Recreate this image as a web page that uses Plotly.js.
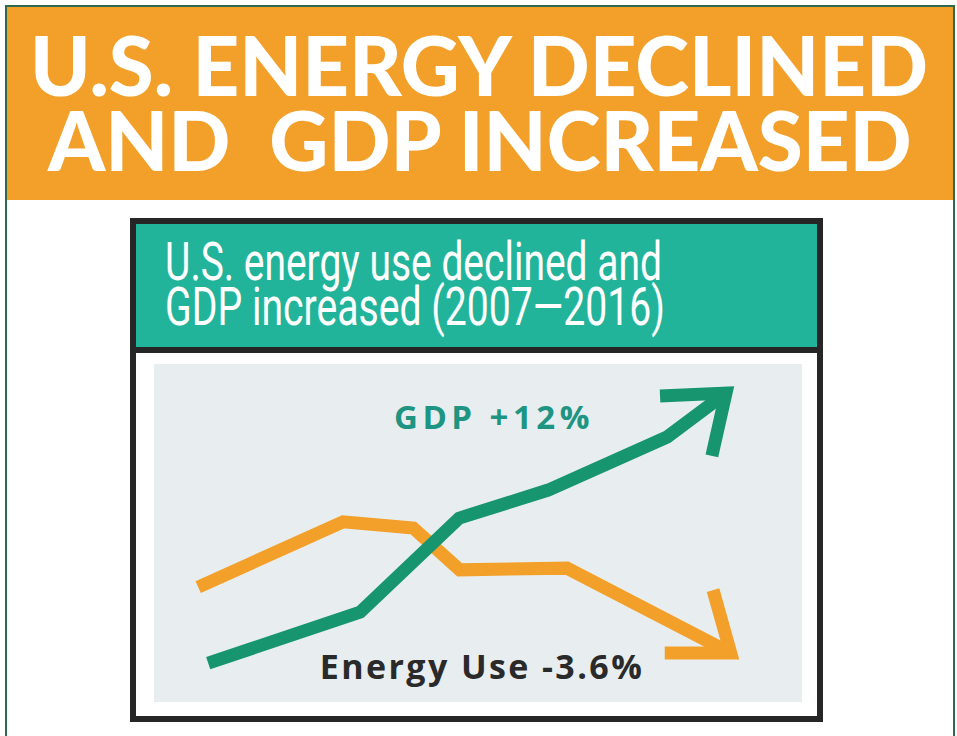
<!DOCTYPE html>
<html><head><meta charset="utf-8">
<script src="https://cdn.plot.ly/plotly-3.0.1.min.js"></script>
<style>
html,body{margin:0;padding:0;background:#fff}
#chart{width:957px;height:736px}
g.annotation[data-index="4"] text{letter-spacing:4.5px}
g.annotation[data-index="5"] text{letter-spacing:2.4px}
</style>
</head><body><div id="chart"></div>
<script>
// ---- data (stylised index, x in years) ----
const gdpX = [2006.92, 2009.50, 2011.18, 2012.69, 2014.71, 2015.71];
const gdpY = [11.5, 26.6, 54.4, 62.7, 78.4, 91.4];
const gdpHeadX = [2014.59, 2015.71, 2015.47];
const gdpHeadY = [90.5, 91.4, 72.8];
const energyX = [2006.75, 2009.21, 2010.40, 2011.19, 2013.01, 2015.79];
const energyY = [34.0, 53.3, 51.5, 39.1, 39.6, 14.5];
const energyHeadX = [2015.49, 2015.79, 2014.67];
const energyHeadY = [33.1, 14.5, 14.5];
const titleLines = ["U.S. ENERGY DECLINED", "AND\u00a0 GDP INCREASED"];
const subtitleLines = ["U.S. energy use declined and", "GDP increased (2007\u20142016)"];
const gdpLabel = "GDP +12%";
const energyLabel = "Energy Use -3.6%";
const gdpLabelPos = [2011.77, 84.6];
const energyLabelPos = [2011.57, 10.7];

// ---- layout helpers (pixel -> paper) ----
const W = 957, H = 736;
const px = v => v / W;
const py = v => 1 - v / H;
const rect = (x0, y0, x1, y1, fill, line, lw) => ({
  type: 'rect', xref: 'paper', yref: 'paper', layer: 'below',
  x0: px(x0), x1: px(x1), y0: py(y0), y1: py(y1),
  fillcolor: fill || 'rgba(0,0,0,0)',
  line: {color: line || 'rgba(0,0,0,0)', width: lw || 0}
});

const GREEN = '#17956F', ORANGE = '#F3A02A';
const traces = [
  {x: energyX, y: energyY, mode: 'lines', line: {color: ORANGE, width: 13}, hoverinfo: 'skip'},
  {x: energyHeadX, y: energyHeadY, mode: 'lines', line: {color: ORANGE, width: 13}, hoverinfo: 'skip'},
  {x: gdpX, y: gdpY, mode: 'lines', line: {color: GREEN, width: 13}, hoverinfo: 'skip'},
  {x: gdpHeadX, y: gdpHeadY, mode: 'lines', line: {color: GREEN, width: 13}, hoverinfo: 'skip'}
];

const titleFont = {family: 'Lato, "Open Sans", sans-serif', size: 82, color: '#ffffff', weight: 900};
const subFont = {family: 'Roboto, "Open Sans", sans-serif', size: 54, color: '#ffffff'};
const labFont = {family: '"Open Sans", Roboto, sans-serif', size: 33, weight: 700};

const layout = {
  width: W, height: H,
  margin: {l: 0, r: 0, t: 0, b: 0},
  paper_bgcolor: '#ffffff',
  plot_bgcolor: '#E8EEEF',
  showlegend: false,
  xaxis: {domain: [154 / W, 802 / W], range: [2006, 2017], visible: false, fixedrange: true},
  yaxis: {domain: [1 - 702 / H, 1 - 364 / H], range: [0, 100], visible: false, fixedrange: true},
  shapes: [
    rect(6, 6, 954, 760, null, '#2E6B4E', 2),
    rect(7, 7, 953, 200, ORANGE),
    rect(133, 221, 820, 719, null, '#262626', 6),
    rect(136, 224, 817, 347, '#22B49A'),
    rect(136, 347, 817, 353, '#262626')
  ],
  annotations: [
    {xref: 'paper', yref: 'paper', x: px(479), y: py(64), xanchor: 'center', yanchor: 'middle',
     text: titleLines[0], showarrow: false, font: titleFont},
    {xref: 'paper', yref: 'paper', x: px(479), y: py(139), xanchor: 'center', yanchor: 'middle',
     text: titleLines[1], showarrow: false, font: titleFont},
    {xref: 'paper', yref: 'paper', x: px(163), y: py(261), xanchor: 'left', yanchor: 'middle',
     text: subtitleLines[0], showarrow: false, font: subFont},
    {xref: 'paper', yref: 'paper', x: px(163), y: py(306), xanchor: 'left', yanchor: 'middle',
     text: subtitleLines[1], showarrow: false, font: subFont},
    {x: gdpLabelPos[0], y: gdpLabelPos[1], xanchor: 'center', yanchor: 'middle',
     text: gdpLabel, showarrow: false, font: Object.assign({}, labFont, {color: '#1E9582'})},
    {x: energyLabelPos[0], y: energyLabelPos[1], xanchor: 'center', yanchor: 'middle',
     text: energyLabel, showarrow: false, font: Object.assign({}, labFont, {size: 34, color: '#2A2A2A'})}
  ]
};

// target widths (px) of lines fitted horizontally: [width, origin]
const fitTargets = {0: [898, '50% 50%'], 1: [865, '50% 50%'], 2: [497, '0 50%'], 3: [500, '0 50%']};

Plotly.newPlot('chart', traces, layout, {displayModeBar: false, staticPlot: true}).then(gd => {
  Object.keys(fitTargets).forEach(i => {
    const t = gd.querySelector('g.annotation[data-index="' + i + '"] text.annotation-text');
    if (!t) return;
    const bb = t.getBBox();
    const s = fitTargets[i][0] / bb.width;
    t.style.transformBox = 'fill-box';
    t.style.transformOrigin = fitTargets[i][1];
    t.style.transform = 'scaleX(' + s.toFixed(4) + ')';
  });
});
</script>
</body></html>
